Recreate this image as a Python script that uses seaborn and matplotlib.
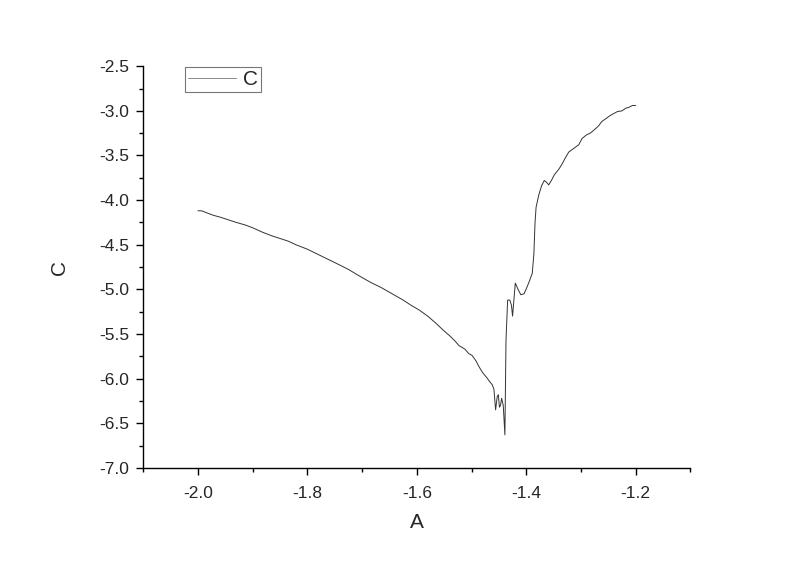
import matplotlib
matplotlib.use("Agg")
import matplotlib.pyplot as plt
import seaborn as sns
import pandas as pd
from matplotlib.ticker import MultipleLocator, FormatStrFormatter

# values
a_vals = [-2.000, -1.993, -1.985, -1.972, -1.960, -1.945, -1.930, -1.913, -1.900,
          -1.882, -1.865, -1.850, -1.835, -1.821, -1.800, -1.780, -1.760, -1.740,
          -1.724, -1.705, -1.685, -1.665, -1.645, -1.625, -1.610, -1.596, -1.580,
          -1.565, -1.553, -1.540, -1.530, -1.523, -1.512, -1.505, -1.499, -1.492,
          -1.486, -1.480, -1.472, -1.466, -1.462, -1.459, -1.456, -1.453, -1.451,
          -1.449, -1.447, -1.445, -1.442, -1.439, -1.437, -1.434, -1.430, -1.427,
          -1.425, -1.420, -1.415, -1.410, -1.404, -1.399, -1.395, -1.389, -1.386,
          -1.384, -1.382, -1.377, -1.372, -1.367, -1.363, -1.359, -1.354, -1.349,
          -1.344, -1.340, -1.334, -1.328, -1.322, -1.313, -1.304, -1.298, -1.290,
          -1.283, -1.277, -1.268, -1.262, -1.255, -1.246, -1.240, -1.234, -1.225,
          -1.218, -1.212, -1.206, -1.200]
c_vals = [-4.12, -4.12, -4.14, -4.17, -4.19, -4.22, -4.25, -4.28, -4.31,
          -4.36, -4.40, -4.43, -4.46, -4.50, -4.55, -4.61, -4.67, -4.73,
          -4.78, -4.85, -4.92, -4.98, -5.05, -5.12, -5.18, -5.23, -5.30,
          -5.38, -5.45, -5.52, -5.58, -5.63, -5.67, -5.72, -5.74, -5.80,
          -5.87, -5.93, -5.99, -6.04, -6.07, -6.12, -6.35, -6.20, -6.18,
          -6.32, -6.30, -6.22, -6.30, -6.63, -5.57, -5.12, -5.12, -5.18,
          -5.30, -4.93, -5.00, -5.06, -5.05, -4.98, -4.92, -4.82, -4.60,
          -4.26, -4.08, -3.94, -3.84, -3.78, -3.80, -3.83, -3.78, -3.72,
          -3.68, -3.65, -3.59, -3.52, -3.46, -3.42, -3.38, -3.31, -3.27,
          -3.25, -3.22, -3.17, -3.12, -3.09, -3.05, -3.03, -3.01, -3.00,
          -2.97, -2.96, -2.94, -2.94]

df = pd.DataFrame({"A": a_vals, "C": c_vals})

sns.set_style("ticks")
plt.rcParams["font.family"] = ["Liberation Sans", "DejaVu Sans"]

fig = plt.figure(figsize=(8, 5.61), dpi=100)
ax = fig.add_axes([0.179, 0.166, 0.684, 0.716])

sns.lineplot(data=df, x="A", y="C", ax=ax, sort=False, estimator=None,
             color="#333333", linewidth=0.7, label="C")

ax.set_xlim(-2.1, -1.1)
ax.set_ylim(-7.0, -2.5)
ax.xaxis.set_major_locator(MultipleLocator(0.2))
ax.xaxis.set_minor_locator(MultipleLocator(0.1))
ax.yaxis.set_major_locator(MultipleLocator(0.5))
ax.yaxis.set_minor_locator(MultipleLocator(0.25))
ax.xaxis.set_major_formatter(FormatStrFormatter("%.1f"))
ax.yaxis.set_major_formatter(FormatStrFormatter("%.1f"))

ax.tick_params(which="major", direction="out", length=5, width=1, labelsize=12.5, color="black")
ax.tick_params(which="minor", direction="out", length=3, width=1, color="black")
ax.tick_params(axis="x", pad=8)
ax.tick_params(axis="y", pad=5)

for side in ["top", "right"]:
    ax.spines[side].set_visible(False)
for side in ["left", "bottom"]:
    ax.spines[side].set_color("black")
    ax.spines[side].set_linewidth(1)

ax.set_xlabel("A", fontsize=15, labelpad=9)
ax.set_ylabel("C", fontsize=15, labelpad=22, rotation=90)

leg = ax.legend(loc="upper left", bbox_to_anchor=(0.077, 0.998), frameon=True,
                fancybox=False, handlelength=2.3, fontsize=15, borderpad=0.15,
                handletextpad=0.3, borderaxespad=0.0)
leg.get_frame().set_edgecolor("#555555")
leg.get_frame().set_linewidth(0.8)
for line in leg.get_lines():
    line.set_color("#888888")

fig.savefig("out.png", dpi=100)
